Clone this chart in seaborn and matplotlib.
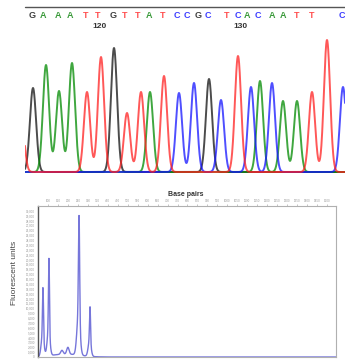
import numpy as np
import pandas as pd
import matplotlib
matplotlib.use("Agg")
import matplotlib.pyplot as plt
import seaborn as sns

# ---------------- data: sequencing chromatogram ----------------
bases = ["G", "A", "A", "A", "T", "T", "G", "T", "T", "A", "T", "C",
         "C", "G", "C", "T", "C", "A", "C", "A", "A", "T", "T", "C"]
call_pos = [32, 43, 58, 70, 86, 98, 113, 125, 138, 149, 163, 177,
            187, 198, 208, 227, 238, 247, 258, 272, 283, 297, 312, 342]
# peaks of the four dye traces (scan position, signal)
peak_base = ["T", "G", "A", "A", "A", "T", "T", "G", "T", "T", "A", "T",
             "C", "C", "G", "C", "T", "C", "A", "C", "A", "A", "T", "T", "C"]
peak_pos = [21, 33, 46, 59, 72, 87, 101, 114, 127, 141, 150, 164,
            179, 194, 209, 221, 238, 251, 260, 272, 283, 297, 312, 327, 343]
peak_h = [60, 84, 107, 81, 109, 80, 115, 124, 59, 80, 80, 96,
          79, 89, 93, 72, 116, 85, 91, 89, 71, 71, 80, 132, 85]
pos_labels = ["120", "130"]
pos_label_idx = [5, 16]

# ---------------- data: electropherogram ----------------
ep_pos = [75, 73, 105, 103, 170, 200, 256, 253, 311, 309, 190]
ep_h = [10000, 4300, 15000, 5200, 800, 1400, 21000, 8200, 7000, 3300, 600]
ep_w = [2.5, 7, 2.5, 7, 6, 6, 3, 8, 2.5, 7, 70]
bp_ticks = list(range(100, 1501, 50))
fu_ticks = list(range(0, 30001, 1000))

base_colors = {"A": "#008a00", "C": "#1414ff", "G": "#101010", "T": "#ff2020"}
text_colors = {"A": "#3a9a3a", "C": "#3d3dff", "G": "#404040", "T": "#ff5050"}

# ---------------- build traces ----------------
scan = np.linspace(25, 345, 1600)
rows = []
for b in ["G", "A", "C", "T"]:
    sig = np.zeros_like(scan)
    for pb, pp, ph in zip(peak_base, peak_pos, peak_h):
        if pb == b:
            sig += ph * np.exp(-0.5 * ((scan - pp) / 3.1) ** 2)
    rows.append(pd.DataFrame({"scan": scan, "signal": sig, "base": b}))
chrom = pd.concat(rows, ignore_index=True)

bp = np.linspace(40, 1545, 3000)
fu = np.zeros_like(bp)
for c, h, w in zip(ep_pos, ep_h, ep_w):
    fu += h * np.exp(-0.5 * ((bp - c) / w) ** 2)
ep = pd.DataFrame({"bp": bp, "fu": fu})

# ---------------- figure ----------------
sns.set_style("white")
plt.rcParams["font.family"] = ["Liberation Sans", "DejaVu Sans"]

W, H = 345, 359
fig = plt.figure(figsize=(W / 100, H / 100), dpi=100)

# top: chromatogram
ax1 = fig.add_axes([25 / W, 1 - 173 / H, 320 / W, 171 / H])
sns.lineplot(data=chrom, x="scan", y="signal", hue="base",
             hue_order=["G", "A", "C", "T"], palette=base_colors,
             estimator=None, sort=False, lw=1.4, alpha=0.75, legend=False, ax=ax1)
ax1.set_xlim(25, 345)
ax1.set_ylim(-1, 170)
ax1.axis("off")
ax1.plot([25, 345], [165, 165], color="#555555", lw=1.0, clip_on=False)
for b, x in zip(bases, call_pos):
    ax1.text(x, 157, b, color=text_colors[b], fontsize=6.5, fontweight="bold",
             ha="center", va="center")
for lab, i in zip(pos_labels, pos_label_idx):
    ax1.text(call_pos[i] + 2, 146, lab, color="#333333", fontsize=6,
             fontweight="bold", ha="center", va="center")

# bottom: electropherogram
ax2 = fig.add_axes([38 / W, 2 / H, 298 / W, 151 / H])
sns.lineplot(data=ep, x="bp", y="fu", color="#5e5ed4", lw=1.0, alpha=0.85, ax=ax2)
ax2.set_xlim(50, 1545)
ax2.set_ylim(0, 31000)
ax2.xaxis.tick_top()
ax2.set_xticks(bp_ticks)
ax2.set_xticklabels([str(t) for t in bp_ticks], fontsize=2.2, color="#999999")
ax2.set_yticks(fu_ticks)
ax2.set_yticklabels([f"{t:,}" for t in fu_ticks], fontsize=2.2, color="#888888")
ax2.tick_params(axis="both", length=1.2, width=0.4, pad=1, colors="#999999")
ax2.set_xlabel("")
ax2.set_ylabel("")
for s in ["top", "right", "bottom"]:
    ax2.spines[s].set_color("#b0b0b0")
    ax2.spines[s].set_linewidth(0.8)
ax2.spines["left"].set_color("#555555")
ax2.spines["left"].set_linewidth(1.0)

fig.text(186 / W, 1 - 195 / H, "Base pairs", fontsize=5, fontweight="bold",
         color="#333333", ha="center", va="center")
fig.text(15 / W, 1 - 273 / H, "Fluorescent units", fontsize=6, color="#444444",
         rotation=90, ha="center", va="center")

fig.savefig("out.png", dpi=100)
